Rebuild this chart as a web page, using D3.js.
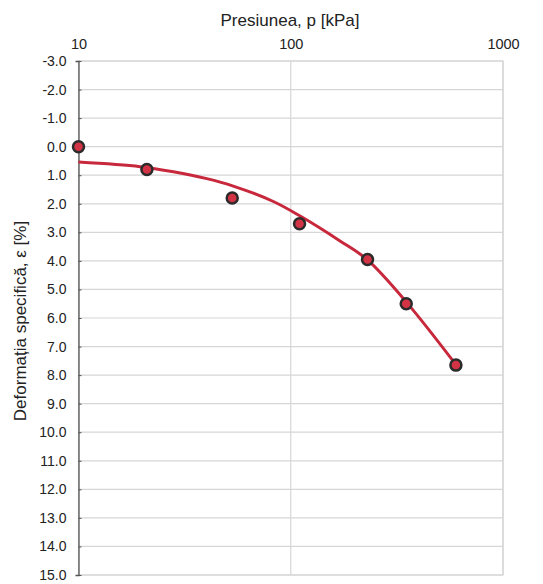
<!DOCTYPE html>
<html><head><meta charset="utf-8">
<script src="https://cdn.jsdelivr.net/npm/d3@7"></script>
<style>body{margin:0;background:#fff}svg{font-family:"Liberation Sans",Arial,sans-serif}</style>
</head><body><svg id="c" width="543" height="584"></svg>
<script>
// measured points
const pressure = [10, 21, 53, 110, 230, 350, 600];
const strain = [0.0, 0.8, 1.8, 2.7, 3.95, 5.5, 7.65];
// trend curve
const trendP = [10, 19.5, 28, 40.2, 53.6, 82.8, 110.7, 170.6, 228.6, 353, 605];
const trendE = [0.54, 0.70, 0.88, 1.12, 1.38, 1.92, 2.43, 3.30, 3.95, 5.47, 7.67];
const xTicks = [10, 100, 1000];
const yTicks = d3.range(-3, 15.001, 1);
const xTitle = "Presiunea, p [kPa]";
const yTitle = "Deformația specifică, ε [%]";

const L = 78.5, R = 503, T = 61, B = 575;
const svg = d3.select("#c");
const x = d3.scaleLog().domain([10, 1000]).range([L, R]);
const y = d3.scaleLinear().domain([-3, 15]).range([T, B]);

// grid
svg.append("g").selectAll("line").data(yTicks).join("line")
  .attr("x1", L).attr("x2", R).attr("y1", d => y(d)).attr("y2", d => y(d))
  .attr("stroke", "#d6d6d6").attr("stroke-width", 1.2);
svg.append("g").selectAll("line").data(xTicks.slice(1)).join("line")
  .attr("x1", d => x(d)).attr("x2", d => x(d)).attr("y1", T).attr("y2", B)
  .attr("stroke", "#d6d6d6").attr("stroke-width", 1.2);
svg.append("rect").attr("x", L).attr("y", T).attr("width", R - L).attr("height", B - T)
  .attr("fill", "none").attr("stroke", "#d6d6d6").attr("stroke-width", 1.2);

// top axis
const xa = svg.append("g").attr("transform", `translate(0,${T})`)
  .call(d3.axisTop(x).tickValues(xTicks).tickFormat(d3.format("d")).tickSize(0).tickPadding(12));
xa.select(".domain").remove();
xa.selectAll("text").attr("font-size", 14.5).attr("fill", "#222").attr("font-family", "Liberation Sans, Arial, sans-serif");

// left axis
const ya = svg.append("g").attr("transform", `translate(${L},0)`)
  .call(d3.axisLeft(y).tickValues(yTicks).tickFormat(d => d.toFixed(1)).tickSize(3).tickPadding(9));
ya.select(".domain").attr("stroke", "#555").attr("stroke-width", 1.3);
ya.selectAll(".tick line").attr("stroke", "#555").attr("transform", "translate(3,0)");
ya.selectAll("text").attr("font-size", 14).attr("fill", "#222").attr("font-family", "Liberation Sans, Arial, sans-serif");

// titles
svg.append("text").attr("x", 290).attr("y", 26).attr("text-anchor", "middle")
  .attr("font-size", 17).attr("fill", "#222").text(xTitle);
svg.append("text").attr("transform", `translate(26,321) rotate(-90)`)
  .attr("text-anchor", "middle").attr("font-size", 17).attr("fill", "#222").text(yTitle);

// trend
const trend = trendP.map((p, i) => [p, trendE[i]]);
svg.append("path").datum(trend)
  .attr("d", d3.line().x(d => x(d[0])).y(d => y(d[1])).curve(d3.curveCatmullRom.alpha(0.5)))
  .attr("fill", "none").attr("stroke", "#c8283c").attr("stroke-width", 3);

// points
svg.append("g").selectAll("circle").data(pressure.map((p, i) => [p, strain[i]])).join("circle")
  .attr("cx", d => x(d[0])).attr("cy", d => y(d[1])).attr("r", 5.5)
  .attr("fill", "#d23445").attr("stroke", "#2b2b2b").attr("stroke-width", 2.5);
</script></body></html>
